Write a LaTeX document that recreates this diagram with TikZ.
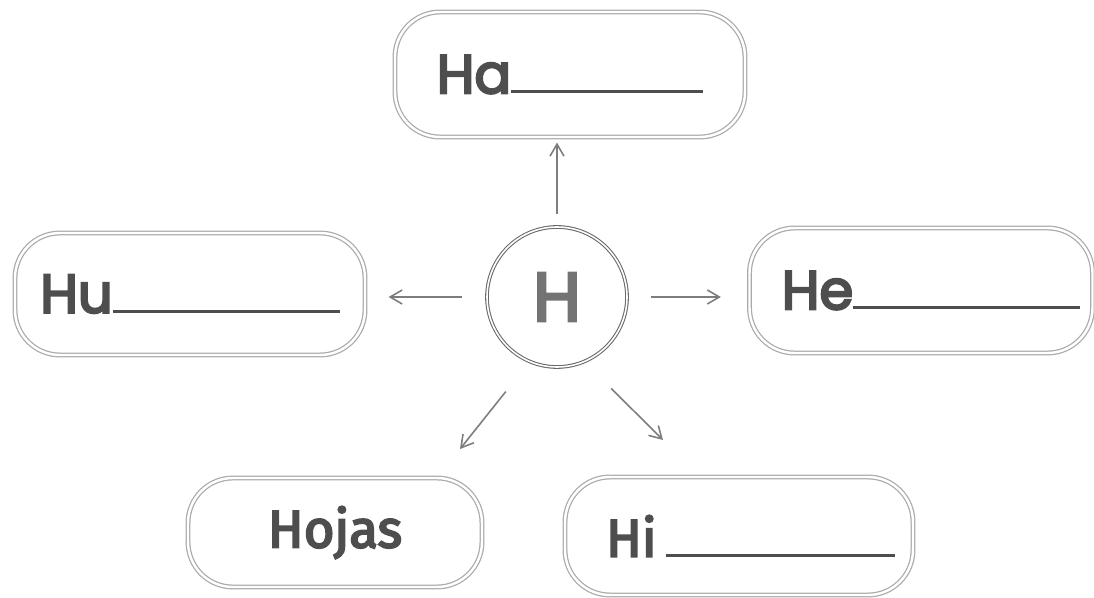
\documentclass[tikz,border=0pt]{standalone}
\usepackage{fontspec}
\setmainfont{Poppins}
\newfontfamily\boxfont{Poppins}[FakeBold=4.2]
\newfontfamily\hojasfont{Fira Sans}[FakeBold=3.8]
\usepackage{tikz}
\usetikzlibrary{
  arrows.meta,
  positioning,
  calc
}
\definecolor{boxcolor}{RGB}{170, 170, 170}
\definecolor{circlecolor}{RGB}{105, 105, 105}
\definecolor{arrowcolor}{RGB}{125, 125, 125}
\definecolor{labelcolor}{RGB}{78, 78, 78}
\definecolor{hubcolor}{RGB}{115, 115, 115}
\tikzset{
labeltext/.style={
  align=center,
  font=\fontsize{31}{33}\selectfont\boxfont,
  text=labelcolor
},
wordbox/.style={
  draw=boxcolor,
  line width=0.7pt,
  double=white,
  double distance=1.4pt,
  rounded corners=0.9cm,
  inner sep=0pt,
  labeltext
},
arrow/.style={
  -{Straight Barb[length=2.4mm,width=2.8mm]},
  line width=0.9pt,
  draw=arrowcolor
}
}

\begin{document}
\begin{tikzpicture}[
    hubcircle/.style={
      circle,
      draw=circlecolor, line width=0.6pt,
      double=white, double distance=0.9pt,
      minimum size=2.8cm, inner sep=0pt,
      font=\fontsize{39}{41}\selectfont\boxfont, text=hubcolor
    },
  ]
    \useasboundingbox (0,0) rectangle (21.88,-11.96);

    % Center letter
    \node[hubcircle] (H) at (11.14,-5.94) {H};

    % Boxes around the center
    \node[wordbox, minimum width=7cm, minimum height=2.5cm] (ha) at (11.4,-1.49) {Ha\rule{3.84cm}{1.6pt}};
    \node[wordbox, minimum width=7cm, minimum height=2.44cm] (hu) at (3.8,-5.88) {Hu\rule{4.54cm}{1.6pt}};
    \node[wordbox, minimum width=6.86cm, minimum height=2.5cm] (he) at (18.42,-5.81) {\hspace*{0.4cm}He\rule{4.54cm}{1.6pt}};
    \node[wordbox, minimum width=5.88cm, minimum height=2.18cm, font=\fontsize{30}{32}\selectfont\hojasfont] (hojas) at (6.7,-10.65) {Hojas};
    \node[wordbox, minimum width=6.96cm, minimum height=2.36cm, font=\fontsize{30}{32}\selectfont\hojasfont] (hi) at (14.78,-10.72) {\hspace*{0.45cm}Hi\,\rule{4.58cm}{1.6pt}};

    % Free ends of the lower arrows
    \coordinate (hojastip) at (9.2,-8.98);
    \coordinate (hitip) at (13.26,-8.8);

    % Arrows
    \draw[arrow, shorten <=0.24cm, shorten >=0.1cm] (H.north) -- (ha.south -| H.north);
    \draw[arrow, shorten <=0.48cm, shorten >=0.46cm] (H.west) -- (hu.east |- H.west);
    \draw[arrow, shorten <=0.46cm, shorten >=0.56cm] (H.east) -- (he.west |- H.east);
    \draw[arrow, shorten <=0.76cm] (H.-113) -- (hojastip);
    \draw[arrow, shorten <=0.75cm] (H.-67) -- (hitip);

  \end{tikzpicture}
\end{document}
